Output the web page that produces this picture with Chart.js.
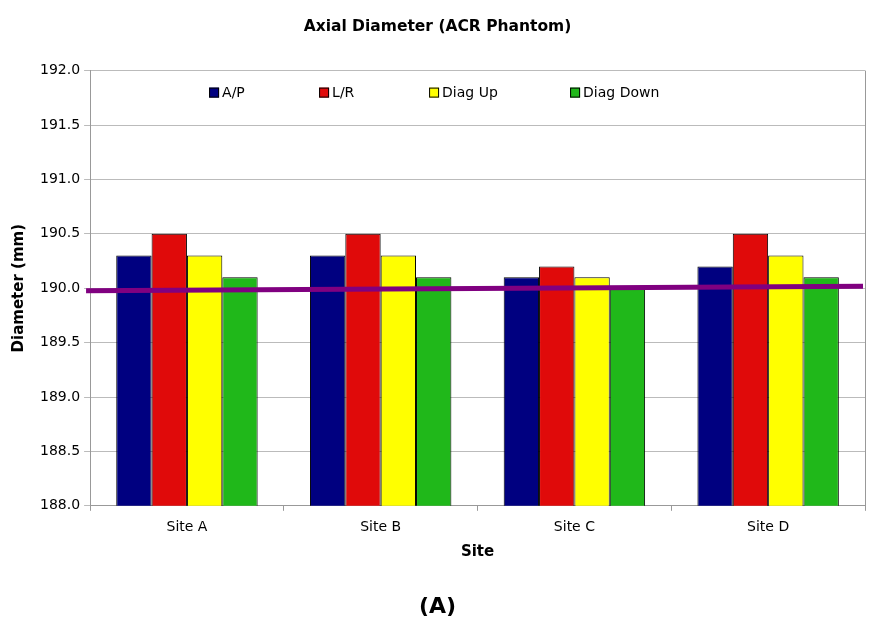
<!DOCTYPE html>
<html>
<head>
<meta charset="utf-8">
<script src="https://cdn.jsdelivr.net/npm/chart.js@4"></script>
<style>
  html, body { margin: 0; padding: 0; background: #fff; }
  #wrap { width: 882px; height: 624px; }
</style>
</head>
<body>
<div id="wrap"><canvas id="axialChart" width="882" height="624"></canvas></div>
<script>
// Axial diameter of the ACR phantom, per site and measurement direction.
const sites = ['Site A', 'Site B', 'Site C', 'Site D'];
const apValues = [190.3, 190.3, 190.1, 190.2];
const lrValues = [190.5, 190.5, 190.2, 190.5];
const diagUpValues = [190.3, 190.3, 190.1, 190.3];
const diagDownValues = [190.1, 190.1, 190.0, 190.1];
// purple reference line, start and end value across the plot
const lineEnds = [189.977, 190.017];
const yTicks = [188.0, 188.5, 189.0, 189.5, 190.0, 190.5, 191.0, 191.5, 192.0];

const FONT = '"DejaVu Sans", Verdana, sans-serif';

(function () {
    const canvas = document.getElementById('axialChart');
    const ctx = canvas.getContext('2d');

    // legend drawn inside the plot area, like the original spreadsheet chart
    const insideLegend = {
        id: 'insideLegend',
        afterDraw(chart) {
            const c = chart.ctx;
            const area = chart.chartArea;
            const offsets = [119, 229, 339, 480];
            c.save();
            c.font = '14px ' + FONT;
            c.textBaseline = 'middle';
            chart.data.datasets.slice(0, 4).forEach((ds, i) => {
                const x = area.left + offsets[i];
                const y = area.top + 22;
                c.fillStyle = ds.backgroundColor;
                c.fillRect(x, y - 5, 10, 10);
                c.strokeStyle = '#000';
                c.lineWidth = 1;
                c.strokeRect(x + 0.5, y - 4.5, 9, 9);
                c.fillStyle = '#000';
                c.fillText(ds.label, x + 13, y + 1);
            });
            c.restore();
        }
    };

    // right edge of the plot frame and the purple reference line
    const plotExtras = {
        id: 'plotExtras',
        beforeDatasetsDraw(chart) {
            const c = chart.ctx;
            const a = chart.chartArea;
            c.save();
            c.strokeStyle = '#999';
            c.lineWidth = 1;
            c.beginPath();
            c.moveTo(a.right + 0.5, a.top);
            c.lineTo(a.right + 0.5, a.bottom);
            c.stroke();
            c.restore();
        },
        afterDatasetsDraw(chart) {
            const c = chart.ctx;
            const a = chart.chartArea;
            const y = chart.scales.y;
            c.save();
            c.strokeStyle = '#800080';
            c.lineWidth = 5;
            c.beginPath();
            c.moveTo(a.left - 4, y.getPixelForValue(lineEnds[0]));
            c.lineTo(a.right - 2, y.getPixelForValue(lineEnds[1]));
            c.stroke();
            c.restore();
        }
    };

    const bar = (label, data, color) => ({
        label, data,
        backgroundColor: color,
        borderColor: '#000',
        borderWidth: 1,
        borderSkipped: false,
        barPercentage: 1,
        categoryPercentage: 0.73
    });

    new Chart(ctx, {
        type: 'bar',
        data: {
            labels: sites,
            datasets: [
                bar('A/P', apValues, '#000080'),
                bar('L/R', lrValues, '#e00a0a'),
                bar('Diag Up', diagUpValues, '#ffff00'),
                bar('Diag Down', diagDownValues, '#20b81a')
            ]
        },
        plugins: [insideLegend, plotExtras],
        options: {
            responsive: false,
            animation: false,
            layout: { padding: { left: 10, right: 17, top: 12, bottom: 4 } },
            plugins: {
                legend: { display: false },
                tooltip: { enabled: false },
                title: {
                    display: true,
                    text: 'Axial Diameter (ACR Phantom)',
                    color: '#000',
                    font: { family: FONT, size: 15.5, weight: 'bold' },
                    padding: { top: 6, bottom: 34 }
                },
                subtitle: {
                    display: true,
                    position: 'bottom',
                    text: '(A)',
                    color: '#000',
                    font: { family: FONT, size: 22, weight: 'bold' },
                    padding: { top: 32, bottom: 0 }
                }
            },
            scales: {
                x: {
                    grid: { display: true, drawOnChartArea: false, offset: true, color: '#999', tickLength: 5 },
                    border: { color: '#999' },
                    ticks: { color: '#000', font: { family: FONT, size: 14 }, padding: 8 },
                    title: {
                        display: true, text: 'Site', color: '#000',
                        font: { family: FONT, size: 15, weight: 'bold' },
                        padding: { top: 0, bottom: 0 }
                    }
                },
                y: {
                    min: 188,
                    max: 192,
                    afterBuildTicks(scale) {
                        scale.ticks = yTicks.map(v => ({ value: v }));
                    },
                    grid: { color: '#bbb', tickLength: 6 },
                    border: { color: '#999' },
                    ticks: {
                        color: '#000',
                        font: { family: FONT, size: 14 },
                        padding: 4,
                        callback: v => Number(v).toFixed(1)
                    },
                    title: {
                        display: true, text: 'Diameter (mm)', color: '#000',
                        font: { family: FONT, size: 15, weight: 'bold' },
                        padding: { top: 0, bottom: 8 }
                    }
                }
            }
        }
    });
})();
</script>
</body>
</html>
